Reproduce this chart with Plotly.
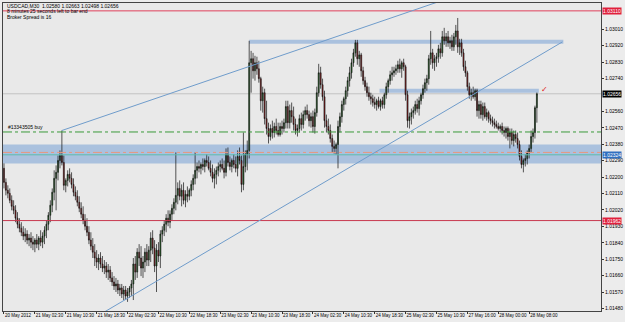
import plotly.graph_objects as go

# ---------------- data (USDCAD M30) ----------------
opens = [
    1.02248,1.02171,1.02128,1.02111,1.02073,1.02040,1.02018,1.01975,1.01942,1.01920,1.01898,1.01877,1.01888,1.01855,1.01866,1.01844,
    1.01833,1.01855,1.01833,1.01866,1.01844,1.01877,1.01909,1.01942,1.01991,1.02046,1.02117,1.02193,1.02226,1.02291,1.02318,1.02280,
    1.02155,1.02182,1.02215,1.02193,1.02160,1.02117,1.02095,1.02062,1.02029,1.01997,1.01964,1.01931,1.01898,1.01855,1.01822,1.01789,
    1.01757,1.01735,1.01757,1.01724,1.01702,1.01713,1.01680,1.01691,1.01648,1.01626,1.01604,1.01615,1.01582,1.01593,1.01560,1.01582,
    1.01549,1.01571,1.01593,1.01615,1.01724,1.01680,1.01789,1.01757,1.01702,1.01735,1.01789,1.01746,1.01800,1.01866,1.01811,1.01713,
    1.01800,1.01768,1.01888,1.01909,1.01942,1.01975,1.01953,1.01997,1.02029,1.02062,1.02100,1.02138,1.02095,1.02128,1.02073,1.02106,
    1.02095,1.02128,1.02160,1.02193,1.02237,1.02258,1.02248,1.02269,1.02258,1.02291,1.02280,1.02248,1.02226,1.02193,1.02215,1.02237,
    1.02258,1.02269,1.02248,1.02226,1.02324,1.02280,1.02258,1.02291,1.02269,1.02248,1.02313,1.02291,1.02160,1.02258,1.02324,1.02346,
    1.02826,1.02848,1.02782,1.02826,1.02793,1.02739,1.02618,1.02662,1.02520,1.02466,1.02422,1.02466,1.02444,1.02477,1.02455,1.02433,
    1.02477,1.02466,1.02498,1.02586,1.02498,1.02564,1.02531,1.02488,1.02455,1.02466,1.02520,1.02488,1.02542,1.02564,1.02542,1.02509,
    1.02531,1.02477,1.02553,1.02662,1.02771,1.02706,1.02640,1.02509,1.02477,1.02455,1.02411,1.02368,1.02357,1.02378,1.02477,1.02531,
    1.02597,1.02629,1.02673,1.02728,1.02771,1.02826,1.02880,1.02935,1.02848,1.02869,1.02782,1.02728,1.02695,1.02662,1.02640,1.02629,
    1.02608,1.02597,1.02618,1.02586,1.02618,1.02597,1.02651,1.02695,1.02728,1.02760,1.02771,1.02782,1.02793,1.02815,1.02793,1.02826,
    1.02804,1.02651,1.02509,1.02531,1.02553,1.02564,1.02597,1.02575,1.02618,1.02651,1.02684,1.02717,1.02739,1.02848,1.02880,1.02826,
    1.02848,1.02859,1.02902,1.02880,1.02968,1.02946,1.02968,1.02935,1.02946,1.02913,1.02968,1.03000,1.02913,1.02935,1.02880,1.02804,
    1.02771,1.02695,1.02651,1.02662,1.02640,1.02673,1.02564,1.02597,1.02542,1.02586,1.02531,1.02553,1.02520,1.02509,1.02498,1.02488,
    1.02477,1.02466,1.02477,1.02455,1.02444,1.02466,1.02422,1.02444,1.02400,1.02433,1.02411,1.02378,1.02313,1.02269,1.02291,1.02302,
    1.02335,1.02357,1.02422,1.02444,1.02580,
]
highs = [
    1.02275,1.02193,1.02155,1.02138,1.02100,1.02073,1.02046,1.02008,1.01975,1.01953,1.01931,1.01920,1.01909,1.01888,1.01898,1.01877,
    1.01866,1.01888,1.01877,1.01909,1.01898,1.01931,1.01964,1.02008,1.02073,1.02138,1.02237,1.02264,1.02318,1.02346,1.02455,1.02318,
    1.02193,1.02237,1.02248,1.02226,1.02193,1.02149,1.02128,1.02095,1.02062,1.02040,1.01997,1.01975,1.01931,1.01898,1.01866,1.01833,
    1.01800,1.01778,1.01789,1.01768,1.01746,1.01735,1.01724,1.01713,1.01680,1.01658,1.01648,1.01637,1.01615,1.01615,1.01604,1.01604,
    1.01593,1.01604,1.01637,1.01757,1.01768,1.01811,1.01833,1.01822,1.01768,1.01811,1.01833,1.01822,1.01898,1.01909,1.01855,1.01833,
    1.01844,1.01909,1.01931,1.01964,1.01997,1.02018,1.02018,1.02051,1.02084,1.02335,1.02171,1.02182,1.02160,1.02171,1.02128,1.02149,
    1.02138,1.02182,1.02215,1.02335,1.02280,1.02291,1.02280,1.02302,1.02302,1.02324,1.02313,1.02291,1.02269,1.02248,1.02258,1.02280,
    1.02291,1.02302,1.02291,1.02357,1.02362,1.02313,1.02302,1.02324,1.02313,1.02346,1.02362,1.02318,1.02444,1.02346,1.02400,1.02946,
    1.02891,1.02880,1.02864,1.02859,1.02837,1.02749,1.02695,1.02684,1.02618,1.02498,1.02488,1.02509,1.02498,1.02520,1.02498,1.02498,
    1.02509,1.02520,1.02618,1.02618,1.02597,1.02608,1.02586,1.02520,1.02488,1.02542,1.02553,1.02564,1.02586,1.02597,1.02564,1.02553,
    1.02564,1.02575,1.02695,1.02820,1.02804,1.02739,1.02673,1.02542,1.02520,1.02488,1.02433,1.02400,1.02389,1.02509,1.02553,1.02618,
    1.02640,1.02695,1.02749,1.02804,1.02848,1.02902,1.02951,1.02951,1.02891,1.02880,1.02804,1.02749,1.02717,1.02695,1.02662,1.02651,
    1.02640,1.02629,1.02640,1.02629,1.02640,1.02662,1.02717,1.02739,1.02782,1.02804,1.02804,1.02815,1.02837,1.02848,1.02837,1.02848,
    1.02815,1.02673,1.02553,1.02575,1.02586,1.02618,1.02629,1.02640,1.02662,1.02706,1.02739,1.02760,1.02869,1.03000,1.02902,1.02869,
    1.02880,1.02924,1.02935,1.03000,1.03017,1.02989,1.03000,1.02968,1.02979,1.02989,1.03033,1.03071,1.02957,1.02957,1.02902,1.02837,
    1.02782,1.02717,1.02684,1.02695,1.02684,1.02684,1.02618,1.02618,1.02608,1.02608,1.02575,1.02564,1.02542,1.02531,1.02520,1.02509,
    1.02498,1.02488,1.02498,1.02477,1.02477,1.02477,1.02466,1.02466,1.02455,1.02455,1.02444,1.02400,1.02346,1.02302,1.02324,1.02346,
    1.02378,1.02455,1.02466,1.02591,1.02663,
]
lows = [
    1.02138,1.02100,1.02084,1.02057,1.02018,1.01997,1.01953,1.01920,1.01898,1.01877,1.01855,1.01844,1.01833,1.01822,1.01811,1.01800,
    1.01789,1.01811,1.01800,1.01822,1.01811,1.01833,1.01866,1.01909,1.01953,1.02008,1.02073,1.02018,1.02182,1.02248,1.02264,1.02128,
    1.02117,1.02149,1.02171,1.02138,1.02095,1.02073,1.02040,1.02008,1.01975,1.01942,1.01909,1.01877,1.01833,1.01800,1.01757,1.01713,
    1.01702,1.01691,1.01702,1.01680,1.01669,1.01648,1.01637,1.01626,1.01604,1.01582,1.01571,1.01560,1.01549,1.01538,1.01527,1.01527,
    1.01517,1.01538,1.01549,1.01527,1.01637,1.01648,1.01713,1.01658,1.01648,1.01680,1.01713,1.01713,1.01735,1.01778,1.01680,1.01571,
    1.01735,1.01702,1.01844,1.01877,1.01898,1.01931,1.01920,1.01964,1.01997,1.02018,1.02051,1.02073,1.02040,1.02051,1.02035,1.02062,
    1.02073,1.02095,1.02128,1.02160,1.02193,1.02226,1.02215,1.02237,1.02226,1.02258,1.02237,1.02204,1.02171,1.02138,1.02160,1.02204,
    1.02226,1.02237,1.02193,1.02204,1.02258,1.02237,1.02226,1.02248,1.02226,1.02204,1.02269,1.02117,1.02128,1.02226,1.02237,1.02302,
    1.02662,1.02739,1.02728,1.02760,1.02717,1.02564,1.02553,1.02488,1.02433,1.02384,1.02400,1.02411,1.02417,1.02433,1.02422,1.02422,
    1.02433,1.02444,1.02466,1.02466,1.02466,1.02498,1.02455,1.02433,1.02422,1.02444,1.02455,1.02466,1.02509,1.02520,1.02477,1.02471,
    1.02444,1.02438,1.02531,1.02640,1.02684,1.02618,1.02471,1.02444,1.02433,1.02389,1.02335,1.02329,1.02324,1.02248,1.02444,1.02498,
    1.02564,1.02597,1.02640,1.02695,1.02739,1.02804,1.02859,1.02815,1.02804,1.02749,1.02706,1.02673,1.02640,1.02618,1.02597,1.02586,
    1.02575,1.02564,1.02575,1.02564,1.02575,1.02575,1.02629,1.02662,1.02706,1.02728,1.02749,1.02760,1.02771,1.02771,1.02744,1.02782,
    1.02618,1.02471,1.02466,1.02488,1.02520,1.02542,1.02553,1.02537,1.02597,1.02629,1.02662,1.02673,1.02706,1.02815,1.02793,1.02782,
    1.02804,1.02826,1.02848,1.02859,1.02924,1.02913,1.02913,1.02902,1.02891,1.02891,1.02924,1.02880,1.02869,1.02859,1.02782,1.02749,
    1.02673,1.02629,1.02618,1.02629,1.02618,1.02531,1.02520,1.02520,1.02509,1.02520,1.02509,1.02498,1.02488,1.02477,1.02466,1.02466,
    1.02455,1.02444,1.02433,1.02422,1.02411,1.02400,1.02357,1.02378,1.02368,1.02389,1.02357,1.02291,1.02248,1.02226,1.02258,1.02269,
    1.02302,1.02335,1.02389,1.02411,1.02498,
]
closes = [
    1.02171,1.02128,1.02111,1.02073,1.02040,1.02018,1.01975,1.01942,1.01920,1.01898,1.01877,1.01888,1.01855,1.01866,1.01844,1.01833,
    1.01855,1.01833,1.01866,1.01844,1.01877,1.01909,1.01942,1.01991,1.02046,1.02117,1.02193,1.02226,1.02291,1.02318,1.02280,1.02155,
    1.02182,1.02215,1.02193,1.02160,1.02117,1.02095,1.02062,1.02029,1.01997,1.01964,1.01931,1.01898,1.01855,1.01822,1.01789,1.01757,
    1.01735,1.01757,1.01724,1.01702,1.01713,1.01680,1.01691,1.01648,1.01626,1.01604,1.01615,1.01582,1.01593,1.01560,1.01582,1.01549,
    1.01571,1.01593,1.01615,1.01724,1.01680,1.01789,1.01757,1.01702,1.01735,1.01789,1.01746,1.01800,1.01866,1.01811,1.01713,1.01800,
    1.01768,1.01888,1.01909,1.01942,1.01975,1.01953,1.01997,1.02029,1.02062,1.02100,1.02138,1.02095,1.02128,1.02073,1.02106,1.02095,
    1.02128,1.02160,1.02193,1.02237,1.02258,1.02248,1.02269,1.02258,1.02291,1.02280,1.02248,1.02226,1.02193,1.02215,1.02237,1.02258,
    1.02269,1.02248,1.02226,1.02324,1.02280,1.02258,1.02291,1.02269,1.02248,1.02313,1.02291,1.02160,1.02258,1.02324,1.02346,1.02826,
    1.02848,1.02782,1.02826,1.02793,1.02739,1.02618,1.02662,1.02520,1.02466,1.02422,1.02466,1.02444,1.02477,1.02455,1.02433,1.02477,
    1.02466,1.02498,1.02586,1.02498,1.02564,1.02531,1.02488,1.02455,1.02466,1.02520,1.02488,1.02542,1.02564,1.02542,1.02509,1.02531,
    1.02477,1.02553,1.02662,1.02771,1.02706,1.02640,1.02509,1.02477,1.02455,1.02411,1.02368,1.02357,1.02378,1.02477,1.02531,1.02597,
    1.02629,1.02673,1.02728,1.02771,1.02826,1.02880,1.02935,1.02848,1.02869,1.02782,1.02728,1.02695,1.02662,1.02640,1.02629,1.02608,
    1.02597,1.02618,1.02586,1.02618,1.02597,1.02651,1.02695,1.02728,1.02760,1.02771,1.02782,1.02793,1.02815,1.02793,1.02826,1.02804,
    1.02651,1.02509,1.02531,1.02553,1.02564,1.02597,1.02575,1.02618,1.02651,1.02684,1.02717,1.02739,1.02848,1.02880,1.02826,1.02848,
    1.02859,1.02902,1.02880,1.02968,1.02946,1.02968,1.02935,1.02946,1.02913,1.02968,1.03000,1.02913,1.02935,1.02880,1.02804,1.02771,
    1.02695,1.02651,1.02662,1.02640,1.02673,1.02564,1.02597,1.02542,1.02586,1.02531,1.02553,1.02520,1.02509,1.02498,1.02488,1.02477,
    1.02466,1.02477,1.02455,1.02444,1.02466,1.02422,1.02444,1.02400,1.02433,1.02411,1.02378,1.02313,1.02269,1.02291,1.02302,1.02335,
    1.02357,1.02422,1.02444,1.02580,1.02656,
]
bar_index = list(range(len(closes)))

date_tick_bars = [0, 16, 32, 48, 64, 80, 96, 112, 128, 144, 160, 176, 192, 208, 224, 240, 256, 272]
date_tick_labels = ["20 May 2012", "21 May 02:30", "21 May 10:30", "21 May 18:30", "22 May 02:30",
                    "22 May 10:30", "22 May 18:30", "23 May 02:30", "23 May 10:30", "23 May 18:30",
                    "24 May 02:30", "24 May 10:30", "24 May 18:30", "25 May 02:30", "25 May 10:30",
                    "27 May 16:00", "28 May 00:00", "28 May 08:00"]

price_ticks = [1.03010, 1.02920, 1.02830, 1.02740, 1.02560, 1.02470, 1.02380, 1.02290,
               1.02200, 1.02110, 1.02020, 1.01930, 1.01840, 1.01750, 1.01660, 1.01570, 1.01480]
price_tick_labels = ["1.03010", "1.02920", "1.02830", "1.02740", "1.02560", "1.02470", "1.02380", "1.02290",
                     "1.02200", "1.02110", "1.02020", "1.01930", "1.01840", "1.01750", "1.01660", "1.01570", "1.01480"]

# horizontal levels / objects
level_top_red = 1.03110
level_bid = 1.02656
level_buy = 1.02447
level_band = (1.02275, 1.02379)
level_orange = 1.02335
level_teal = 1.02322
level_low_red = 1.01962
zone_top = (127, 289.7, 1.02930, 1.02952)
zone_mid = (194.5, 277, 1.02662, 1.02684)
trend_upper = (30, 1.02455, 196, 1.03055)
trend_lower = (62, 1.01524, 289.2, 1.02940)

FONT = "Liberation Sans, Arial, sans-serif"
FS = 5

fig = go.Figure()
fig.add_trace(go.Candlestick(
    x=bar_index, open=opens, high=highs, low=lows, close=closes,
    increasing=dict(line=dict(color="#111111", width=0.7), fillcolor="#1f7a1f"),
    decreasing=dict(line=dict(color="#111111", width=0.7), fillcolor="#b01818"),
    whiskerwidth=0, showlegend=False, hoverinfo="skip",
))

band_fill = "#aac1de"
shapes = [
    dict(type="rect", xref="paper", x0=0, x1=1, yref="y", y0=level_band[0], y1=level_band[1],
         fillcolor=band_fill, line=dict(width=0), layer="below"),
    dict(type="rect", xref="x", x0=zone_top[0], x1=zone_top[1], yref="y", y0=zone_top[2], y1=zone_top[3],
         fillcolor=band_fill, line=dict(width=0), layer="below"),
    dict(type="rect", xref="x", x0=zone_mid[0], x1=zone_mid[1], yref="y", y0=zone_mid[2], y1=zone_mid[3],
         fillcolor=band_fill, line=dict(width=0), layer="below"),
    dict(type="line", xref="paper", x0=0, x1=1, yref="y", y0=level_bid, y1=level_bid,
         line=dict(color="#c2c2c2", width=1), layer="below"),
    dict(type="line", xref="paper", x0=0, x1=1, yref="y", y0=level_top_red, y1=level_top_red,
         line=dict(color="#e0405c", width=1)),
    dict(type="line", xref="paper", x0=0, x1=1, yref="y", y0=level_buy, y1=level_buy,
         line=dict(color="#3a9a3a", width=1, dash="dashdot")),
    dict(type="line", xref="paper", x0=0, x1=1, yref="y", y0=level_orange, y1=level_orange,
         line=dict(color="#e8977f", width=1, dash="dashdot")),
    dict(type="line", xref="paper", x0=0, x1=1, yref="y", y0=level_teal, y1=level_teal,
         line=dict(color="#5cbcae", width=1)),
    dict(type="line", xref="paper", x0=0, x1=1, yref="y", y0=level_low_red, y1=level_low_red,
         line=dict(color="#c8384e", width=1)),
    dict(type="line", xref="x", yref="y", x0=trend_upper[0], y0=trend_upper[1],
         x1=trend_upper[0] + (trend_upper[2] - trend_upper[0]) * 2,
         y1=trend_upper[1] + (trend_upper[3] - trend_upper[1]) * 2,
         line=dict(color="#6f9ccb", width=1)),
    dict(type="line", xref="x", yref="y", x0=trend_lower[0] - 10,
         y0=trend_lower[1] - (trend_lower[3] - trend_lower[1]) / (trend_lower[2] - trend_lower[0]) * 10,
         x1=trend_lower[2], y1=trend_lower[3],
         line=dict(color="#6f9ccb", width=1)),
]

annotations = []
def price_box(y, text, bg, fg="white"):
    annotations.append(dict(xref="paper", x=1, xanchor="left", xshift=1, yref="y", y=y, yanchor="middle",
                            text=text, showarrow=False, bgcolor=bg, borderpad=0,
                            font=dict(family=FONT, size=FS, color=fg)))

price_box(level_top_red, "1.03110", "#e0203c")
price_box(level_bid, "1.02656", "#000000")
price_box(level_teal, "1.02324", "#2f6fc0")
price_box(level_low_red, "1.01962", "#e0203c")

header = ["USDCAD,M30  1.02580 1.02663 1.02498 1.02656",
          "8 minutes 25 seconds left to bar end",
          "Broker Spread is 16"]
for k, line in enumerate(header):
    annotations.append(dict(xref="paper", x=0.003, xanchor="left", yref="paper",
                            y=(311 - 5 - 5.3 * k) / 309, yanchor="middle", text=line,
                            showarrow=False, font=dict(family=FONT, size=FS, color="#000")))

annotations.append(dict(xref="paper", x=0.005, xanchor="left", yref="y", y=level_buy, yanchor="bottom",
                        yshift=0, text="#13343505 buy", showarrow=False,
                        font=dict(family=FONT, size=FS, color="#000")))
annotations.append(dict(xref="x", x=280, yref="y", y=1.02679, text="✓", showarrow=False,
                        font=dict(family="DejaVu Sans", size=8, color="#e02020")))

fig.update_layout(
    width=625, height=322,
    margin=dict(l=2, r=19, t=2, b=11),
    paper_bgcolor="#ececec", plot_bgcolor="#e9e9e9",
    shapes=shapes, annotations=annotations,
    showlegend=False,
    xaxis=dict(range=[-0.5, 309.2], rangeslider=dict(visible=False), showgrid=False, zeroline=False,
               tickmode="array", tickvals=date_tick_bars, ticktext=date_tick_labels, tickangle=0,
               ticks="outside", ticklen=2, tickcolor="#333", ticklabelposition="outside right",
               tickfont=dict(family=FONT, size=4.5, color="#000"),
               showline=True, mirror=True, linecolor="#444", linewidth=1),
    yaxis=dict(range=[1.01467, 1.03153], side="right", showgrid=False, zeroline=False,
               tickmode="array", tickvals=price_ticks, ticktext=price_tick_labels,
               ticks="outside", ticklen=2, tickcolor="#333",
               tickfont=dict(family=FONT, size=FS, color="#000"),
               showline=True, mirror=True, linecolor="#444", linewidth=1),
)

fig.write_html("out.html")
